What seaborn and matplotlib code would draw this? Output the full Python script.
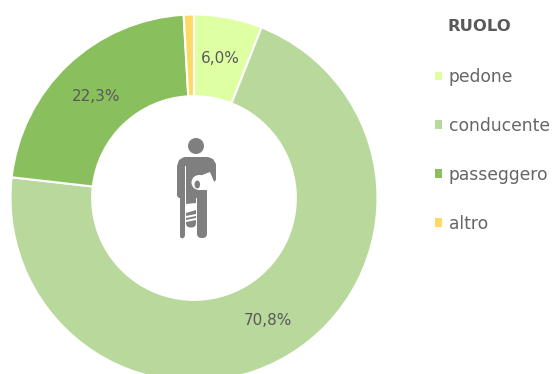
import matplotlib
matplotlib.use("Agg")
import matplotlib.pyplot as plt
from matplotlib.patches import Circle, FancyBboxPatch, Polygon, Ellipse, Patch
import seaborn as sns

categories = ["pedone", "conducente", "passeggero", "altro"]
values = [6.0, 70.8, 22.3, 0.9]
labels = ["6,0%", "70,8%", "22,3%", ""]
colors = ["#DFFFA3", "#B9D89C", "#8ABF5E", "#FFD966"]
legend_title = "RUOLO"

sns.set_theme(style="white")
plt.rcParams["font.family"] = ["DejaVu Sans"]
GREY = "#595959"
ICON = "#7F7F7F"
W, H = 552, 374

fig = plt.figure(figsize=(W / 100, H / 100), dpi=100, facecolor="white")
cx, cy, R = 194, 198, 183.5
ax = fig.add_axes([(cx - R) / W, 1 - (cy + R) / H, 2 * R / W, 2 * R / H])
wedges, texts = ax.pie(
    values, colors=colors, startangle=90, counterclock=False, radius=1,
    wedgeprops=dict(width=0.445, edgecolor="white", linewidth=1.5),
)
ax.set_xlim(-1, 1)
ax.set_ylim(-1, 1)
ax.set_aspect("equal")
ax.axis("off")

label_pos = [(0.145, 0.76), (0.405, -0.665), (-0.535, 0.555)]
for lab, (x, y) in zip(labels, label_pos):
    ax.text(x, y, lab, ha="center", va="center", fontsize=11, color=GREY)

handles = [Patch(facecolor=c, edgecolor="none") for c in colors]
leg = fig.legend(
    handles, categories, loc="upper left", bbox_to_anchor=(435 / W, 1 - 19 / H),
    bbox_transform=fig.transFigure, frameon=False, title=legend_title,
    handlelength=0.42, handleheight=0.42, handletextpad=0.38,
    labelspacing=1.81, borderpad=0, borderaxespad=0,
    prop=dict(size=12.3), labelcolor="#666666", alignment="left",
)
title = leg.get_title()
title.set_fontsize(11.8)
title.set_fontweight("bold")
title.set_color(GREY)
title.set_position((13, 0))
leg._legend_box.sep = 24.5

# pictogram, in pixel coordinates
ic = fig.add_axes([0, 0, 1, 1], facecolor="none")
ic.set_xlim(0, W)
ic.set_ylim(H, 0)
ic.axis("off")
ic.add_patch(Circle((196, 146), 8, fc=ICON, ec="none"))
# shoulders, torso and upper arms
ic.add_patch(Polygon([(177, 166), (179, 160), (184, 157), (208, 157), (213, 159), (216, 164),
                      (216, 180), (214, 182), (211, 182), (208, 174), (207, 190), (207, 200),
                      (186, 200), (186, 198), (179, 198), (177, 196)], fc=ICON, ec="none"))
# legs
ic.add_patch(FancyBboxPatch((197, 195), 10, 43, boxstyle="round,pad=0,rounding_size=4.5", fc=ICON, ec="none"))
ic.add_patch(FancyBboxPatch((186, 195), 10, 32.5, boxstyle="round,pad=0,rounding_size=4.5", fc=ICON, ec="none"))
# crutch
ic.add_patch(Polygon([(180, 195), (184.6, 195), (184.6, 236), (180, 236)], fc=ICON, ec="none"))
ic.add_patch(Circle((182.3, 236), 2.3, fc=ICON, ec="none"))
ic.add_patch(Polygon([(184.6, 166), (186.2, 166), (186.2, 240), (184.6, 240)], fc="white", ec="none"))
ic.add_patch(Polygon([(196, 198), (197, 198), (197, 240), (196, 240)], fc="white", ec="none"))
# cast on arm
ic.add_patch(Polygon([(197, 177), (210, 172), (215, 184), (207, 188), (207, 190), (198, 190)], fc="white", ec="none"))
ic.add_patch(Ellipse((199, 182.5), 15, 15, fc="white", ec="none"))
ic.add_patch(Ellipse((197.3, 184.5), 5.5, 8, fc=ICON, ec="none"))
# cast on leg
ic.add_patch(Polygon([(186, 204), (196, 203), (196, 210), (186, 213)], fc="white", ec="none"))
ic.add_patch(Polygon([(186, 216), (196, 214), (196, 216), (186, 218)], fc="white", ec="none"))
ic.add_patch(Polygon([(186, 220), (196, 218), (196, 220), (186, 222)], fc="white", ec="none"))

fig.savefig("out.png", dpi=100)
